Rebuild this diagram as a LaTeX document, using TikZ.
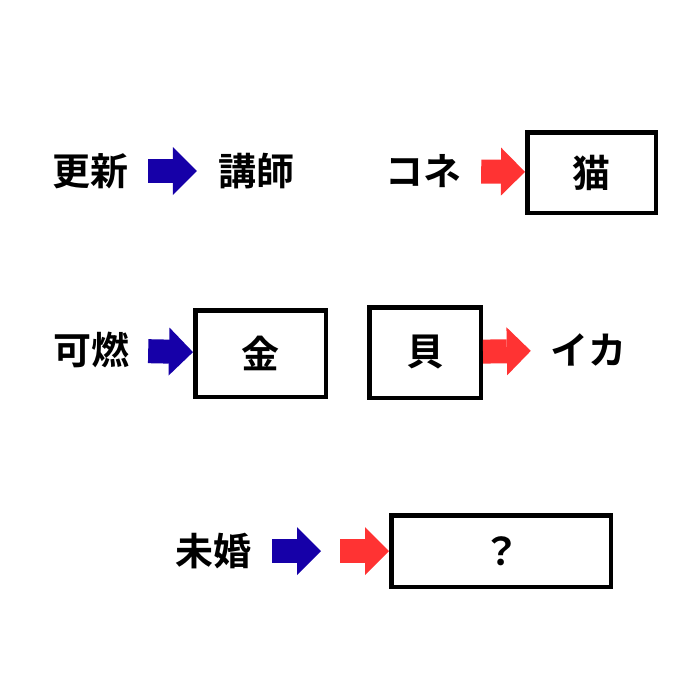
\documentclass[tikz,border=0pt]{standalone}
\usepackage{fontspec}
\newfontfamily\jpfont{Noto Sans CJK JP}[UprightFont=* Bold]
\usetikzlibrary{arrows.meta}
\definecolor{arrblue}{RGB}{22,0,168}
\definecolor{arrred}{RGB}{255,51,51}

\begin{document}
\begin{tikzpicture}[x=1pt,y=-1pt,
  word/.style={inner sep=0pt,font=\jpfont\fontsize{38}{40}\selectfont},
  answer/.style={word,draw,line width=4.5pt},
  fat/.style={line width=24pt,-{Triangle[length=24pt,width=48pt,line width=0pt]}},
  bluearr/.style={fat,draw=arrblue,fill=arrblue},
  redarr/.style={fat,draw=arrred,fill=arrred}]
\useasboundingbox (0,0) rectangle (680,680);
% first row
\node[word] (koushin) at (90,171) {更新};
\node[word] (koushi) at (256.5,171) {講師};
\node[word] (kone) at (423,171) {コネ};
\node[answer,minimum width=128.5pt,minimum height=80.5pt] (neko) at (591.5,172.5) {猫};
\draw[bluearr,shorten <=20pt,shorten >=21.5pt] (koushin) -- (koushi);
\draw[redarr,shorten <=20pt] (kone) -- (neko);
% second row
\node[word] (kanen) at (91,350) {可燃};
\node[answer,minimum width=130.5pt,minimum height=86.5pt] (kin) at (260.5,353.5) {金};
\node[answer,minimum width=111.5pt,minimum height=90.5pt] (kai) at (425,352.5) {貝};
\node[word] (ika) at (588,350) {イカ};
\draw[bluearr,shorten <=19pt] (kanen) -- (kin);
\draw[redarr,shorten >=19pt] (kai) -- (ika);
% third row
\node[word] (mikon) at (213.5,551) {未婚};
\coordinate (mid) at (330.5,551);
\node[answer,minimum width=219.5pt,minimum height=71.5pt] (hatena) at (501,551) {？};
\draw[bluearr,shorten <=20.5pt,shorten >=9.5pt] (mikon) -- (mid);
\draw[redarr,shorten <=9.5pt] (mid) -- (hatena);
\end{tikzpicture}
\end{document}
